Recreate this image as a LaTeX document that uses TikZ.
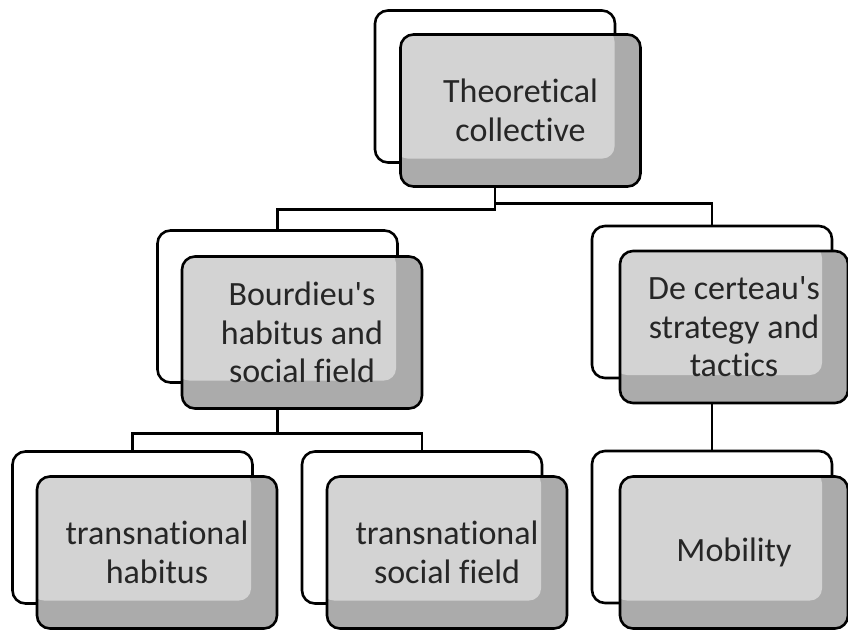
\documentclass[tikz,border=0pt]{standalone}
\usepackage{fontspec}
\setmainfont{Carlito}[Ligatures={TeXOff,CommonOff}]
\usetikzlibrary{calc}
\definecolor{lightfill}{HTML}{D3D3D3}
\definecolor{darkstrip}{HTML}{ABABAB}
\definecolor{textgray}{HTML}{262626}
\begin{document}
\begin{tikzpicture}[x=1pt,y=1pt,
  backbox/.style={draw=black, line width=2.6pt, fill=white, rounded corners=13pt,
    minimum width=240pt, minimum height=152pt, inner sep=0pt},
  frontbox/.style={draw=black, line width=2.6pt, fill=darkstrip, rounded corners=13pt,
    minimum width=240pt, minimum height=152pt, inner sep=0pt, align=center,
    font=\fontsize{34}{38.5}\selectfont, text=textgray,
    path picture={\fill[lightfill, rounded corners=12pt]
      ([xshift=-5pt,yshift=5pt]path picture bounding box.north west) rectangle
      ([xshift=-26pt,yshift=28pt]path picture bounding box.south east);}},
  narrow/.style={minimum width=228pt},
  conn/.style={draw=black, line width=2.6pt}]
\useasboundingbox (0,0) rectangle (848,-630);

% back boxes
\node[backbox] (Tb) at (495,-86.5) {};
\node[backbox] (Bb) at (277.5,-306.5) {};
\node[backbox] (Db) at (712,-302) {};
\node[backbox] (Hb) at (132.5,-527.5) {};
\node[backbox] (Sb) at (422,-527.5) {};
\node[backbox] (Mb) at (712,-527) {};

% connectors (behind front boxes)
\draw[conn] (Tb.south) -- ++(0,-45.5) -| (Bb.north);
\draw[conn] (Tb.south) -- ++(0,-39.5) -| (Db.north);
\draw[conn] (Bb.south) -- ++(0,-49.5) -| (Hb.north);
\draw[conn] (Bb.south) -- ++(0,-49.5) -| (Sb.north);
\draw[conn] (Db.south) -- (Mb.north);

% front boxes
\node[frontbox] (Tf) at ($(Tb)+(25.5,-24)$) {Theoretical\\collective};
\node[frontbox] (Bf) at ($(Bb)+(24.5,-26)$) {Bourdieu's\\habitus and\\social field};
\node[frontbox,narrow] (Df) at ($(Db)+(22,-25)$) {De certeau's\\strategy and\\tactics};
\node[frontbox] (Hf) at ($(Hb)+(24.5,-25)$) {transnational\\habitus};
\node[frontbox] (Sf) at ($(Sb)+(25,-25)$) {transnational\\social field};
\node[frontbox,narrow] (Mf) at ($(Mb)+(22,-25.5)$) {Mobility};
\end{tikzpicture}
\end{document}
